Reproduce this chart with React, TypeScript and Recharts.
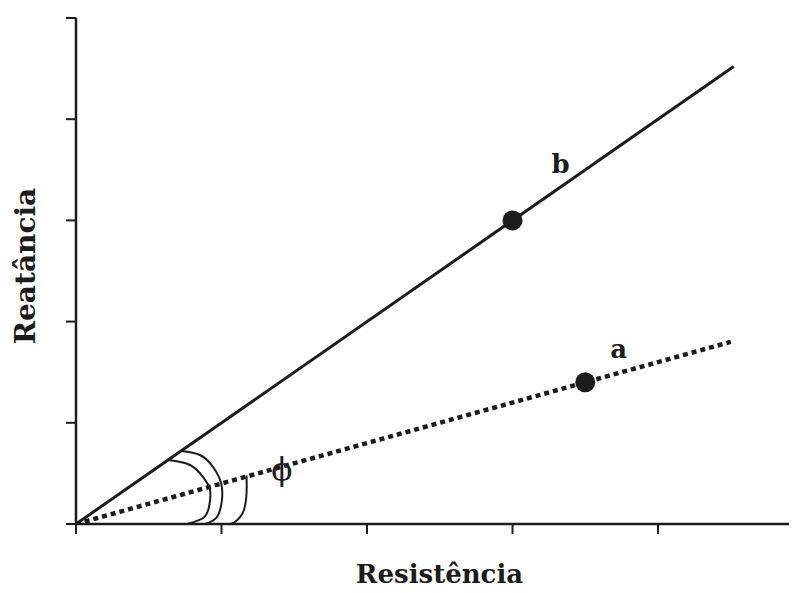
import React from 'react';
import { ComposedChart, Line, Scatter, XAxis, YAxis } from 'recharts';

// Line b (solid) and line a (dotted), in data units
const lineB = [
  { x: 0, y: 0 },
  { x: 4.52, y: 4.52 },
];
const lineA = [
  { x: 0, y: 0 },
  { x: 4.5, y: 1.8 },
];
const pointsB = [{ x: 3, y: 3 }];
const pointsA = [{ x: 3.5, y: 1.4 }];

// Angle-marker arcs (sampled along the drawn curves)
const arcInner = [
  { x: 0.632, y: 0.632 },
  { x: 0.784, y: 0.583 },
  { x: 0.873, y: 0.464 },
  { x: 0.921, y: 0.336 },
  { x: 0.914, y: 0.168 },
  { x: 0.873, y: 0.059 },
  { x: 0.763, y: 0 },
];
const arcOuter = [
  { x: 0.722, y: 0.722 },
  { x: 0.852, y: 0.682 },
  { x: 0.942, y: 0.563 },
  { x: 0.997, y: 0.405 },
  { x: 1.003, y: 0.237 },
  { x: 0.969, y: 0.069 },
  { x: 0.887, y: 0 },
];
const arcPhi = [
  { x: 1.172, y: 0.48 },
  { x: 1.172, y: 0.306 },
  { x: 1.149, y: 0.119 },
  { x: 1.092, y: 0.02 },
  { x: 1.058, y: 0 },
];

// Annotation labels
const annotations = [
  { x: 3.33, y: 3.47, text: 'b', bold: true, size: 26 },
  { x: 3.73, y: 1.64, text: 'a', bold: true, size: 26 },
  { x: 1.415, y: 0.43, text: 'ϕ', bold: false, size: 31 },
];

const xTicks = [0, 1, 2, 3, 4];
const yTicks = [0, 1, 2, 3, 4, 5];

const FONT = '"DejaVu Serif", "Liberation Serif", serif';
const INK = '#1c1c1c';

const AnnotationShape = (props: any) => {
  const { cx, cy, payload } = props;
  return (
    <text
      x={cx}
      y={cy}
      textAnchor="middle"
      fontFamily={FONT}
      fontWeight={payload.bold ? 'bold' : 'normal'}
      fontSize={payload.size}
      fill={INK}
    >
      {payload.text}
    </text>
  );
};

const Dot = (props: any) => {
  const { cx, cy } = props;
  return <circle cx={cx} cy={cy} r={10} fill={INK} />;
};

const NoTickLabel = () => <g />;

export default function App() {
  return (
    <div style={{ width: 789, height: 585 }}>
      <ComposedChart
        width={789}
        height={585}
        margin={{ top: 10, right: 0, bottom: 0, left: 0 }}
      >
        <XAxis
          type="number"
          dataKey="x"
          domain={[0, 4.955]}
          ticks={xTicks}
          tick={NoTickLabel}
          tickLine={{ stroke: INK, strokeWidth: 2 }}
          tickSize={10}
          height={69}
          stroke={INK}
          strokeWidth={2.5}
          allowDataOverflow
          label={(p: any) => {
            const vb = p.viewBox || { x: 68, y: 516, width: 721, height: 69 };
            return (
              <text
                x={vb.x + vb.width / 2 + 3}
                y={575}
                textAnchor="middle"
                fontFamily={FONT}
                fontWeight="bold"
                fontSize={26}
                fill={INK}
              >
                Resistência
              </text>
            );
          }}
        />
        <YAxis
          type="number"
          dataKey="y"
          domain={[0, 5]}
          ticks={yTicks}
          tick={NoTickLabel}
          tickLine={{ stroke: INK, strokeWidth: 2 }}
          tickSize={10}
          width={68}
          stroke={INK}
          strokeWidth={2.5}
          allowDataOverflow
          label={() => (
            <text
              x={27}
              y={258}
              transform="rotate(-90 27 258)"
              textAnchor="middle"
              fontFamily={FONT}
              fontWeight="bold"
              fontSize={28}
              fill={INK}
            >
              Reatância
            </text>
          )}
        />
        <Line
          data={lineB}
          dataKey="y"
          type="linear"
          stroke={INK}
          strokeWidth={3}
          dot={false}
          activeDot={false}
          isAnimationActive={false}
        />
        <Line
          data={lineA}
          dataKey="y"
          type="linear"
          stroke={INK}
          strokeWidth={4.5}
          strokeDasharray="5 4"
          dot={false}
          activeDot={false}
          isAnimationActive={false}
        />
        <Line
          data={arcInner}
          dataKey="y"
          type="natural"
          stroke={INK}
          strokeWidth={2}
          dot={false}
          activeDot={false}
          isAnimationActive={false}
        />
        <Line
          data={arcOuter}
          dataKey="y"
          type="natural"
          stroke={INK}
          strokeWidth={2}
          dot={false}
          activeDot={false}
          isAnimationActive={false}
        />
        <Line
          data={arcPhi}
          dataKey="y"
          type="natural"
          stroke={INK}
          strokeWidth={2}
          dot={false}
          activeDot={false}
          isAnimationActive={false}
        />
        <Scatter data={pointsB} dataKey="y" shape={Dot} isAnimationActive={false} />
        <Scatter data={pointsA} dataKey="y" shape={Dot} isAnimationActive={false} />
        <Scatter
          data={annotations}
          dataKey="y"
          shape={AnnotationShape}
          isAnimationActive={false}
        />
      </ComposedChart>
    </div>
  );
}
